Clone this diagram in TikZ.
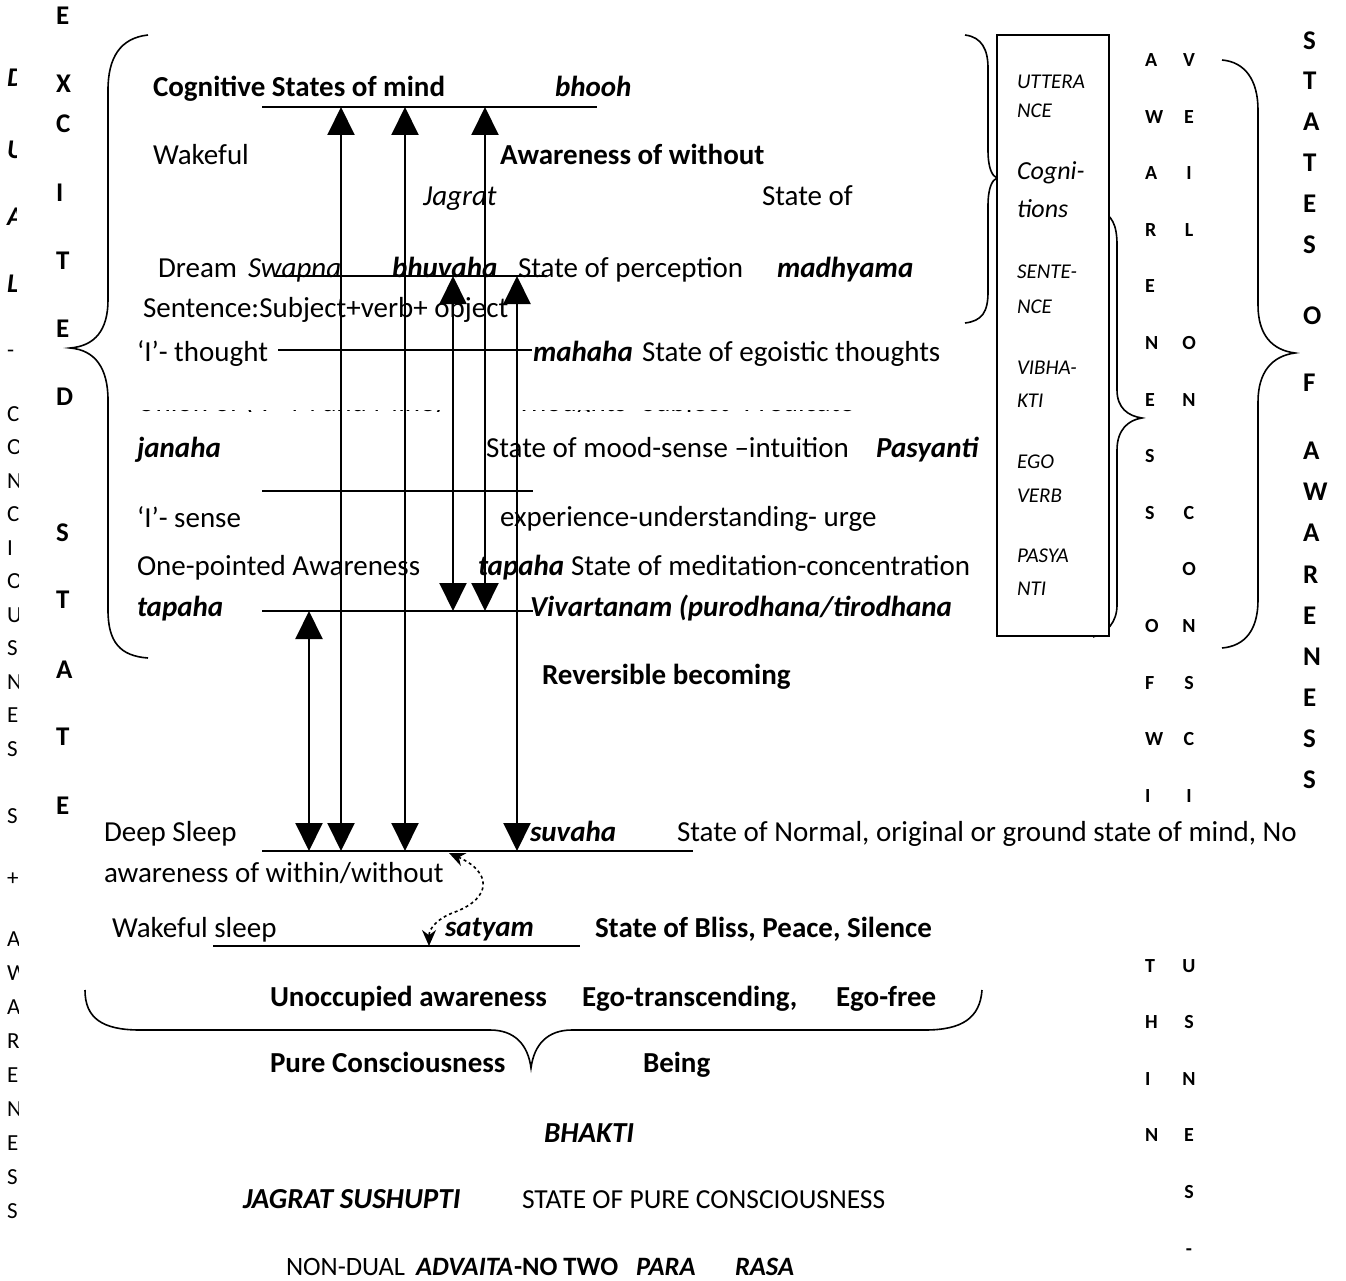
\documentclass[tikz,border=0pt]{standalone}
\usepackage{fontspec}
\setmainfont{Carlito}
\usetikzlibrary{arrows.meta}
\begin{document}
\begin{tikzpicture}[x=1pt,y=-1pt,
  txt/.style={inner sep=0pt, outer sep=0pt, anchor=base west, font=\fontsize{29}{35}\selectfont},
  bf/.style={txt, font=\fontsize{29}{35}\selectfont\bfseries},
  it/.style={txt, font=\fontsize{29}{35}\selectfont\itshape},
  bi/.style={txt, font=\fontsize{29}{35}\selectfont\bfseries\itshape},
  capstxt/.style={txt, font=\fontsize{27.5}{33}\selectfont},
  lastrm/.style={txt, font=\fontsize{26.5}{31}\selectfont},
  lastbf/.style={txt, font=\fontsize{26.5}{31}\selectfont\bfseries},
  lastbi/.style={txt, font=\fontsize{26.5}{31}\selectfont\bfseries\itshape},
  boxtxt/.style={txt, font=\fontsize{21}{25}\selectfont\itshape},
  boxbig/.style={txt, font=\fontsize{26}{30}\selectfont\itshape},
  vlet/.style={txt, font=\fontsize{27}{30}\selectfont\bfseries},
  smlet/.style={txt, font=\fontsize{20}{24}\selectfont\bfseries},
  leftlet/.style={txt, font=\fontsize{23}{27}\selectfont},
  leftbi/.style={txt, font=\fontsize{27}{30}\selectfont\bfseries\itshape},
  hline/.style={line width=1.5pt},
  varrow/.style={line width=2pt, {Triangle[length=28pt,width=27pt]}-{Triangle[length=28pt,width=27pt]}},
  brace/.style={line width=1.6pt},
  dotarrow/.style={line width=1.6pt, dash pattern=on 3pt off 3pt, {Stealth[length=16pt,width=14pt]}-{Stealth[length=16pt,width=14pt]}}
]
\useasboundingbox (0,0) rectangle (1346,1281);
\fill[white] (0,0) rectangle (1346,1281);
\clip (0,0) rectangle (1346,1281);

% ---------- left clipped columns ----------
\begin{scope}
\clip (0,0) rectangle (16,400);
\node[leftbi] (dD) at (7,87) {D};
\node[leftbi] (dU) at (7,159) {U};
\node[leftbi] (dA) at (7,226) {A};
\node[leftbi] (dL) at (7,293) {L};
\end{scope}
\begin{scope}
\clip (0,330) rectangle (18,1281);
\node[leftlet] (ldash) at (7,357) {-};
\foreach \y/\l [count=\i] in {421/C,454/O,488/N,521/C,555/I,588/O,622/U,655/S,689/N,722/E,756/S,823/S,885/+,946/A,980/W,1014/A,1048/R,1082/E,1116/N,1150/E,1184/S,1218/S}
  \node[leftlet] (lc\i) at (7,\y) {\l};
\end{scope}

% ---------- EXCITED STATE ----------
\foreach \y/\l [count=\i] in {25/E,93/X,133/C,202/I,270/T,337/E,405/D,541/S,608/T,678/A,745/T,814/E}
  \node[vlet] (ex\i) at (56,\y) {\l};

% ---------- STATES OF AWARENESS ----------
\foreach \y/\l [count=\i] in {50/S,90/T,131/A,172/T,213/E,254/S,324/O,391/F,459/A,500/W,541/A,583/R,624/E,665/N,706/E,747/S,788/S}
  \node[vlet] (sa\i) at (1303,\y) {\l};

% ---------- small letter columns ----------
\foreach \k/\l in {0/A,1/W,2/A,3/R,4/E,5/N,6/E,7/S,8/S,10/O,11/F,12/W,13/I,16/T,17/H,18/I,19/N}
  \node[smlet] (ca\k) at (1145,66.5+56.6*\k) {\l};
\foreach \k/\l in {0/V,1/E,2/I,3/L,5/O,6/N,8/C,9/O,10/N,11/S,12/C,13/I,16/U,17/S,18/N,19/E,20/S,21/-}
  \node[smlet, anchor=base] (cb\k) at (1189,66.5+56.6*\k) {\l};

% ---------- braces ----------
\draw[brace] (148,35) .. controls (120,38) and (108,58) .. (108,90) -- (108,300)
  .. controls (108,330) and (95,346) .. (70,348)
  .. controls (95,350) and (108,368) .. (108,400) -- (108,610)
  .. controls (108,642) and (120,656) .. (148,658);
\draw[brace] (965,35) .. controls (982,37) and (988,50) .. (988,68) -- (988,150)
  .. controls (988,168) and (992,176) .. (997,178)
  .. controls (992,180) and (988,188) .. (988,206) -- (988,292)
  .. controls (988,312) and (982,321) .. (965,323);
\draw[brace] (1098,210) .. controls (1112,214) and (1117,225) .. (1117,245) -- (1117,390)
  .. controls (1117,408) and (1128,416) .. (1142,418)
  .. controls (1128,420) and (1117,430) .. (1117,450) -- (1117,605)
  .. controls (1117,622) and (1107,633) .. (1093,637);
\draw[brace] (1222,60) .. controls (1245,62) and (1258,80) .. (1258,110) -- (1258,305)
  .. controls (1258,335) and (1272,350) .. (1295,353)
  .. controls (1272,356) and (1258,372) .. (1258,402) -- (1258,600)
  .. controls (1258,630) and (1245,646) .. (1222,648);
\draw[brace] (85,990) .. controls (85,1018) and (102,1030) .. (140,1030) -- (490,1030)
  .. controls (515,1030) and (528,1045) .. (531,1068)
  .. controls (534,1045) and (547,1030) .. (572,1030) -- (925,1030)
  .. controls (962,1030) and (980,1018) .. (982,990);

% ---------- box ----------
\draw[line width=1.5pt, fill=white] (997,35) rectangle (1109,636);
\node[boxtxt] (b1) at (1017,89) {UTTERA};
\node[boxtxt] (b2) at (1017,118) {NCE};
\node[boxbig] (b3) at (1017,180) {Cogni-};
\node[boxbig] (b4) at (1017,218) {tions};
\node[boxtxt] (b5) at (1017,279) {SENTE-};
\node[boxtxt] (b6) at (1017,313) {NCE};
\node[boxtxt] (b7) at (1017,374) {VIBHA-};
\node[boxtxt] (b8) at (1017,407) {KTI};
\node[boxtxt] (b9) at (1017,468) {EGO};
\node[boxtxt] (b10) at (1017,502) {VERB};
\node[boxtxt] (b11) at (1017,562) {PASYA};
\node[boxtxt] (b12) at (1017,595) {NTI};

% ---------- partly hidden line (only its lowest strip shows) ----------
\node[txt] (t16) at (137,411) {Union of (‘I’- M and Mine)};
\node[txt] (t17) at (517,411) {Thoughts- Subject- Predicate};
\fill[white] (122,370) rectangle (990,409.5);
\fill[white] (122,412) rectangle (990,432);

% ---------- main texts ----------
\node[bf] (t1) at (153,97) {Cognitive States of mind};
\node[bi] (t2) at (555,97) {bhooh};
\node[txt] (t3) at (153,165) {Wakeful};
\node[bf] (t4) at (500,165) {Awareness of without};
\node[it] (t5) at (423,206) {Jagrat};
\node[txt] (t6) at (762,206) {State of};
\node[txt] (t7) at (158,277) {Dream};
\node[it] (t8) at (248,277) {Swapna};
\node[bi] (t9) at (392,277) {bhuvaha};
\node[txt] (t10) at (518,277) {State of perception};
\node[bi] (t11) at (777,277) {madhyama};
\node[txt] (t12) at (143,317) {Sentence:Subject+verb+ object};
\node[txt] (t13) at (137,361) {‘I’- thought};
\node[bi] (t14) at (533,361) {mahaha};
\node[txt] (t15) at (642,361) {State of egoistic thoughts};
\node[bi] (t18) at (137,457) {janaha};
\node[txt] (t19) at (486,457) {State of mood-sense –intuition};
\node[bi] (t20) at (876,457) {Pasyanti};
\node[txt] (t21) at (137,527) {‘I’- sense};
\node[txt] (t22) at (500,526) {experience-understanding- urge};
\node[txt] (t23) at (137,575) {One-pointed Awareness};
\node[bi] (t24) at (478,575) {tapaha};
\node[txt] (t25) at (571,575) {State of meditation-concentration};
\node[bi] (t26) at (137,616) {tapaha};
\node[bi] (t27) at (530,616) {Vivartanam (purodhana/tirodhana};
\node[bf] (t28) at (542,684) {Reversible becoming};
\node[txt] (t29) at (104,841) {Deep Sleep};
\node[bi] (t30) at (530,841) {suvaha};
\node[txt] (t31) at (677,841) {State of Normal, original or ground state of mind, No};
\node[txt] (t32) at (104,882) {awareness of within/without};
\node[txt] (t33) at (112,937) {Wakeful sleep};
\node[bi] (t34) at (445,936) {satyam};
\node[bf] (t35) at (595,937) {State of Bliss, Peace, Silence};
\node[bf] (t36) at (270,1006) {Unoccupied awareness};
\node[bf] (t37) at (582,1006) {Ego-transcending,};
\node[bf] (t38) at (836,1006) {Ego-free};
\node[bf] (t39) at (270,1072) {Pure Consciousness};
\node[bf] (t40) at (643,1072) {Being};
\node[bi] (t41) at (544,1142) {BHAKTI};
\node[bi] (t42) at (243,1208) {JAGRAT SUSHUPTI};
\node[capstxt] (t43) at (522,1208) {STATE OF PURE CONSCIOUSNESS};
\node[lastrm] (t44) at (286,1275) {NON-DUAL};
\node[lastbi] (t45) at (416,1275) {ADVAITA};
\node[lastbf] (t46) at (514,1275) {-NO TWO};
\node[lastbi] (t47) at (636,1275) {PARA};
\node[lastbi] (t48) at (735,1275) {RASA};

% ---------- horizontal lines ----------
\coordinate (h1a) at (262,107); \coordinate (h1b) at (597,107);
\coordinate (h2a) at (275,276); \coordinate (h2b) at (547,276);
\coordinate (h3a) at (278,350); \coordinate (h3b) at (532,350);
\coordinate (h4a) at (262,491); \coordinate (h4b) at (533,491);
\coordinate (h5a) at (262,611); \coordinate (h5b) at (533,611);
\coordinate (h6a) at (262,851); \coordinate (h6b) at (693,851);
\coordinate (h7a) at (213,946); \coordinate (h7b) at (580,946);
\foreach \i in {1,...,7} \draw[hline] (h\i a) -- (h\i b);

% ---------- vertical double arrows ----------
\coordinate (v1t) at (309,611); \coordinate (v1b) at (309,851);
\coordinate (v2t) at (341,107); \coordinate (v2b) at (341,851);
\coordinate (v3t) at (405,107); \coordinate (v3b) at (405,851);
\coordinate (v4t) at (453,276); \coordinate (v4b) at (453,611);
\coordinate (v5t) at (485,107); \coordinate (v5b) at (485,611);
\coordinate (v6t) at (517,276); \coordinate (v6b) at (517,851);
\foreach \i in {1,...,6} \draw[varrow] (v\i t) -- (v\i b);

% ---------- dotted curved arrow ----------
\coordinate (d1) at (449,853);
\coordinate (d2) at (429,946);
\draw[dotarrow] (d1) .. controls (492,872) and (492,898) .. (455,912) .. controls (438,918) and (429,928) .. (d2);
\end{tikzpicture}
\end{document}
